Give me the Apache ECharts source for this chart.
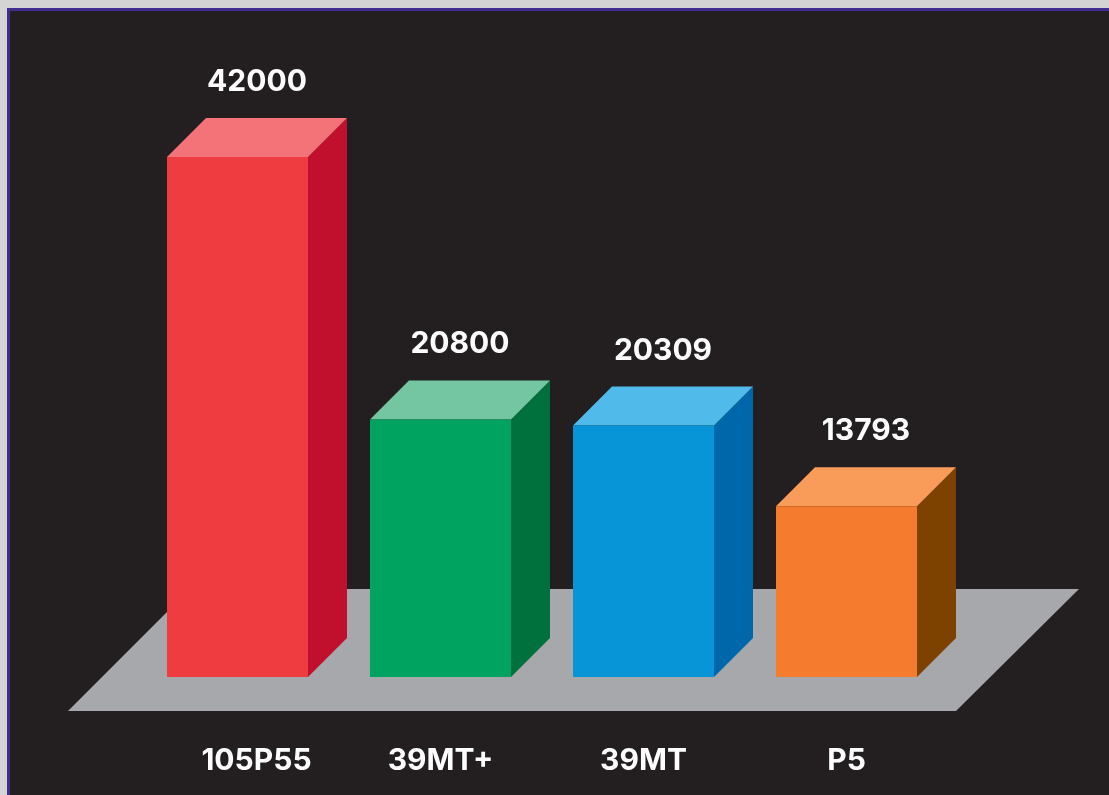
<!DOCTYPE html>
<html>
<head>
<meta charset="utf-8">
<style>
  html, body { margin: 0; padding: 0; background: #d5d4d5; }
  #chart { width: 1109px; height: 795px; }
</style>
</head>
<body>
<div id="chart"></div>
<script src="https://cdn.jsdelivr.net/npm/echarts@6/dist/echarts.min.js"></script>
<script>
var categories = ['105P55', '39MT+', '39MT', 'P5'];
var values = [42000, 20800, 20309, 13793];

var frontColors = ['#ee3c41', '#00a360', '#0895d8', '#f57c2f'];
var topColors = ['#f37379', '#74c6a3', '#50bbea', '#fa9c59'];
var sideColors = ['#c1102e', '#00703c', '#0067ab', '#7e4200'];

var DEPTH = 39;          // 斜向纵深
var BAR_RATIO = 141 / 203;
var LABEL_FONT = '700 30px Inter';

var chart = echarts.init(document.getElementById('chart'));

function renderBar(params, api) {
    var i = api.value(0);
    var top = api.coord([i, api.value(1)]);
    var base = api.coord([i, 0]);
    var w = api.size([1, 0])[0] * BAR_RATIO;
    var l = top[0] - w / 2;
    var r = top[0] + w / 2;

    return {
        type: 'group',
        children: [
            {
                type: 'polygon',
                shape: { points: [[r, top[1]], [r + DEPTH, top[1] - DEPTH], [r + DEPTH, base[1] - DEPTH], [r, base[1]]] },
                style: { fill: sideColors[i] }
            },
            {
                type: 'polygon',
                shape: { points: [[l, top[1]], [l + DEPTH, top[1] - DEPTH], [r + DEPTH, top[1] - DEPTH], [r, top[1]]] },
                style: { fill: topColors[i] }
            },
            {
                type: 'rect',
                shape: { x: l, y: top[1], width: w, height: base[1] - top[1] },
                style: { fill: frontColors[i] }
            },
            {
                type: 'text',
                style: {
                    x: top[0] + DEPTH / 2,
                    y: top[1] - DEPTH - 36,
                    text: String(api.value(1)),
                    align: 'center',
                    verticalAlign: 'middle',
                    fill: '#ffffff',
                    font: LABEL_FONT
                }
            }
        ]
    };
}

var option = {
    animation: false,
    backgroundColor: '#d5d4d5',
    graphic: [
        {
            type: 'rect',
            z: 0,
            shape: { x: 8.5, y: 9.5, width: 1200, height: 900 },
            style: { fill: '#231f20', stroke: '#3f2e8f', lineWidth: 3 }
        },
        {
            type: 'polygon',
            z: 1,
            shape: { points: [[68, 711], [956, 711], [1079, 589], [190, 589]] },
            style: { fill: '#a7a8ab' }
        }
    ],
    grid: { left: 136, top: 157, width: 812, height: 520 },
    xAxis: {
        type: 'category',
        data: categories.map(function (name, i) {
            // 第一个标签在原图里偏右
            return i === 0 ? { value: name, textStyle: { padding: [0, 0, 0, 38] } } : name;
        }),
        axisLine: { show: false },
        axisTick: { show: false },
        axisLabel: {
            margin: 69,
            color: '#ffffff',
            fontFamily: 'Inter',
            fontWeight: 700,
            fontSize: 30,
            interval: 0
        }
    },
    yAxis: { type: 'value', min: 0, max: 42000, show: false },
    series: [
        {
            type: 'custom',
            renderItem: renderBar,
            encode: { x: 0, y: 1 },
            data: values.map(function (v, i) { return [i, v]; })
        }
    ]
};

chart.setOption(option);
</script>
</body>
</html>
